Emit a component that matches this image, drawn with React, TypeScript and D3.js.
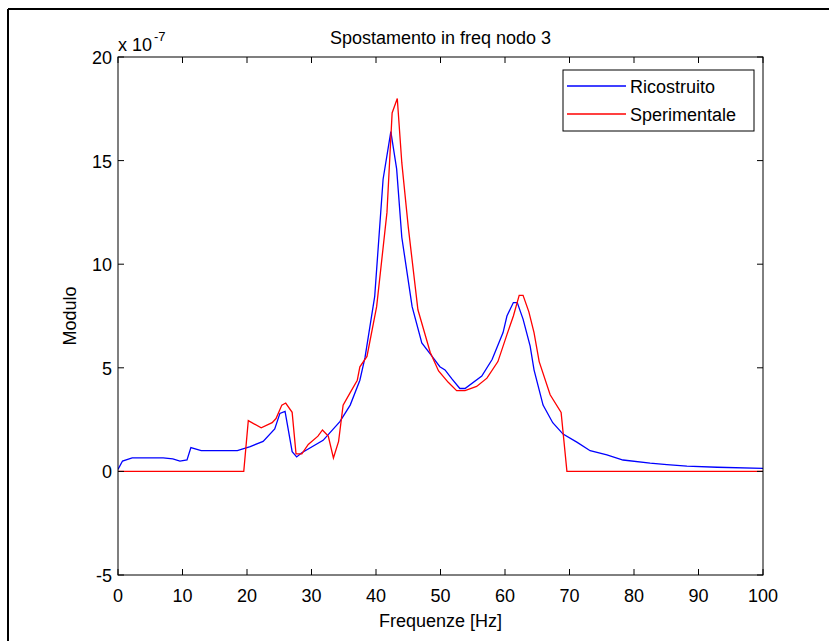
import React from "react";
import * as d3 from "d3";

const blueX = [0, 0.7, 2.2, 7, 8.5, 9.6, 10.7, 11.3, 12.9, 18.5, 20.5, 22.5, 24.3, 25.1, 25.9, 27, 27.7, 28.5, 31.8, 34.4, 36, 37.5, 38.3, 39.8, 41.1, 42.3, 43.2, 44, 45.6, 47.1, 48.7, 49.9, 50.7, 51.8, 53, 53.8, 56.4, 58, 59.7, 60.3, 61.3, 61.9, 62.8, 63.9, 64.5, 65.9, 67.4, 69, 71.2, 73.2, 75.8, 78.3, 82.5, 85.1, 88.2, 92.9, 100];
const blueY = [0.1, 0.5, 0.65, 0.65, 0.6, 0.5, 0.55, 1.15, 1.0, 1.0, 1.2, 1.45, 2.05, 2.8, 2.9, 0.95, 0.7, 0.9, 1.5, 2.4, 3.2, 4.4, 5.5, 8.45, 14.1, 16.4, 14.6, 11.3, 7.95, 6.2, 5.55, 5.05, 4.9, 4.45, 4.0, 4.0, 4.6, 5.4, 6.7, 7.5, 8.15, 8.15, 7.35, 6.05, 4.9, 3.2, 2.35, 1.8, 1.4, 1.0, 0.8, 0.55, 0.4, 0.33, 0.25, 0.2, 0.15];

const redX = [0, 19.5, 20.2, 22.2, 23.9, 24.5, 25.4, 26, 27, 27.6, 28.5, 29.5, 31, 31.7, 32.6, 33.4, 34.2, 34.9, 36, 37.1, 37.5, 38.6, 40.1, 41.7, 42.5, 43.3, 44, 45, 46.5, 48.4, 49.7, 51.2, 52.5, 53.8, 55.6, 57.2, 58.9, 60.3, 61.3, 62.2, 62.8, 63.7, 64.5, 65.3, 67, 68.7, 69.6, 100];
const redY = [0, 0, 2.45, 2.1, 2.35, 2.55, 3.2, 3.3, 2.85, 0.85, 0.85, 1.3, 1.7, 2.0, 1.7, 0.65, 1.45, 3.2, 3.8, 4.4, 5.05, 5.55, 7.95, 12.5, 17.3, 18.0, 14.9, 11.8, 7.8, 5.75, 4.85, 4.3, 3.9, 3.9, 4.1, 4.5, 5.3, 6.6, 7.5, 8.5, 8.5, 7.7, 6.7, 5.3, 3.7, 2.85, 0, 0];

const xTicks = [0, 10, 20, 30, 40, 50, 60, 70, 80, 90, 100];
const yTicks = [-5, 0, 5, 10, 15, 20];
const seriesNames = ["Ricostruito", "Sperimentale"];
const seriesColors = ["#0000ff", "#ff0000"];

const W = 829, H = 641;
const L = 118, R = 763, T = 57, B = 575;
const FONT = "Arial, 'Liberation Sans', sans-serif";

export default function App() {
  const x = d3.scaleLinear().domain([0, 100]).range([L, R]);
  const y = d3.scaleLinear().domain([-5, 20]).range([B, T]);
  const line = d3.line<[number, number]>().x(d => x(d[0])).y(d => y(d[1]));
  const blue = blueX.map((v, i) => [v, blueY[i]] as [number, number]);
  const red = redX.map((v, i) => [v, redY[i]] as [number, number]);
  const tl = 6;
  return (
    <svg width={W} height={H} style={{ position: "absolute", left: 0, top: 0, background: "#fff" }} fontFamily={FONT}>
      <rect x={0} y={0} width={W} height={H} fill="#fff" />
      <line x1={8} y1={9} x2={W} y2={9} stroke="#000" strokeWidth={2} />
      <line x1={8} y1={9} x2={8} y2={H} stroke="#000" strokeWidth={2} />
      <defs>
        <clipPath id="plot"><rect x={L} y={T} width={R - L} height={B - T} /></clipPath>
      </defs>
      <g clipPath="url(#plot)" fill="none" strokeWidth={1.3}>
        <path d={line(blue) || ""} stroke={seriesColors[0]} />
        <path d={line(red) || ""} stroke={seriesColors[1]} />
      </g>
      <rect x={L} y={T} width={R - L} height={B - T} fill="none" stroke="#000" strokeWidth={1} />
      <g stroke="#000" strokeWidth={1}>
        {xTicks.map(t => (
          <g key={"xt" + t}>
            <line x1={x(t)} x2={x(t)} y1={B} y2={B - tl} />
            <line x1={x(t)} x2={x(t)} y1={T} y2={T + tl} />
          </g>
        ))}
        {yTicks.map(t => (
          <g key={"yt" + t}>
            <line x1={L} x2={L + tl} y1={y(t)} y2={y(t)} />
            <line x1={R} x2={R - tl} y1={y(t)} y2={y(t)} />
          </g>
        ))}
      </g>
      <g fontSize={18} fill="#000">
        {xTicks.map(t => (
          <text key={"xl" + t} x={x(t)} y={B + 27} textAnchor="middle">{t}</text>
        ))}
        {yTicks.map(t => (
          <text key={"yl" + t} x={L - 6} y={y(t) + 7} textAnchor="end">{t}</text>
        ))}
        <text x={L} y={51}>x 10</text>
        <text x={L + 36} y={41} fontSize={13}>-7</text>
        <text x={(L + R) / 2} y={44} textAnchor="middle">Spostamento in freq nodo 3</text>
        <text x={(L + R) / 2} y={627} textAnchor="middle">Frequenze [Hz]</text>
        <text transform={`translate(76,${(T + B) / 2}) rotate(-90)`} textAnchor="middle">Modulo</text>
      </g>
      <g>
        <rect x={563} y={70} width={191} height={61} fill="#fff" stroke="#000" strokeWidth={1} />
        {seriesNames.map((n, i) => (
          <g key={n}>
            <line x1={567} x2={626} y1={86 + i * 28} y2={86 + i * 28} stroke={seriesColors[i]} strokeWidth={1.3} />
            <text x={630} y={93 + i * 28} fontSize={18}>{n}</text>
          </g>
        ))}
      </g>
    </svg>
  );
}
